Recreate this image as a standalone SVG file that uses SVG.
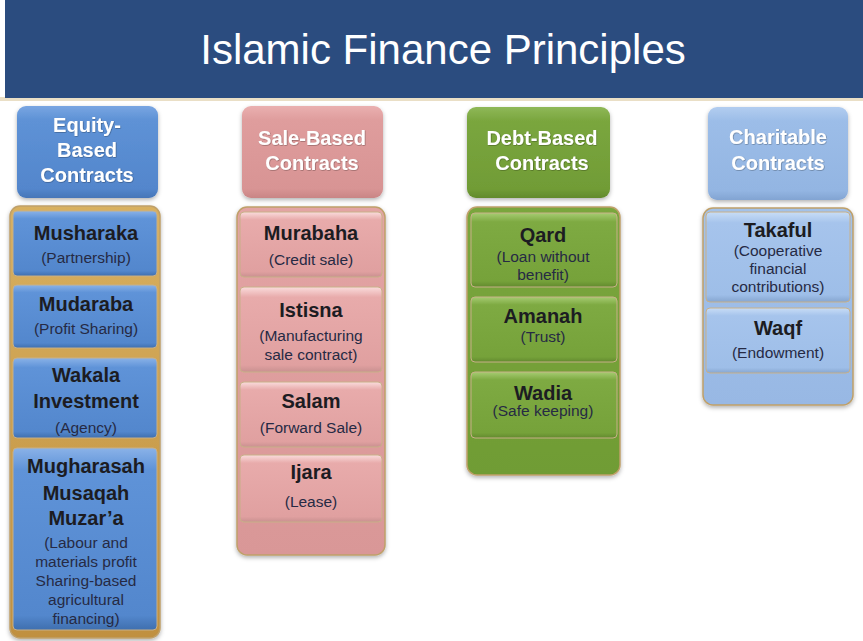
<svg xmlns="http://www.w3.org/2000/svg" width="863" height="641" viewBox="0 0 863 641">
<defs>
<style>
.title{font-family:"Liberation Sans",Arial,sans-serif;font-size:42px;fill:#ffffff;text-anchor:middle}
.hd{font-family:"Liberation Sans",Arial,sans-serif;font-size:20px;font-weight:bold;fill:#ffffff;text-anchor:middle}
.it{font-family:"Liberation Sans",Arial,sans-serif;font-size:20px;font-weight:bold;fill:#1c1c22;text-anchor:middle}
.sb{font-family:"Liberation Sans",Arial,sans-serif;font-size:15.5px;fill:#262a44;text-anchor:middle}
.cont{stroke:#bfa06a;stroke-width:1.5}
.item{stroke:#c8b088;stroke-width:1}
.hl{fill:none;stroke:#ffffff;stroke-opacity:0.55;stroke-width:1.5}
</style>
<filter id="sh" x="-10%" y="-10%" width="120%" height="125%">
<feDropShadow dx="0" dy="2" stdDeviation="2" flood-color="#000" flood-opacity="0.3"/>
</filter>
<filter id="ts" x="-10%" y="-20%" width="120%" height="140%">
<feDropShadow dx="0.5" dy="0.5" stdDeviation="0.6" flood-color="#000" flood-opacity="0.45"/>
</filter>
<linearGradient id="gBlueH" x1="0" y1="0" x2="0" y2="1">
<stop offset="0" stop-color="#79a6e2"/><stop offset="0.15" stop-color="#5e92d6"/><stop offset="0.9" stop-color="#5386cc"/><stop offset="1" stop-color="#4676b8"/>
</linearGradient>
<linearGradient id="gBlueI" x1="0" y1="0" x2="0" y2="1">
<stop offset="0" stop-color="#8ab2e8"/><stop offset="0.12" stop-color="#5f93d8"/><stop offset="0.92" stop-color="#5387cd"/><stop offset="1" stop-color="#3f6fae"/>
</linearGradient>
<linearGradient id="gGold" x1="0" y1="0" x2="0" y2="1">
<stop offset="0" stop-color="#d8b060"/><stop offset="1" stop-color="#c09040"/>
</linearGradient>
<linearGradient id="gPinkH" x1="0" y1="0" x2="0" y2="1">
<stop offset="0" stop-color="#eab0b0"/><stop offset="0.15" stop-color="#df9d9d"/><stop offset="0.9" stop-color="#d89494"/><stop offset="1" stop-color="#c98585"/>
</linearGradient>
<linearGradient id="gPinkI" x1="0" y1="0" x2="0" y2="1">
<stop offset="0" stop-color="#fadcdc"/><stop offset="0.12" stop-color="#e8abab"/><stop offset="0.92" stop-color="#e0a0a0"/><stop offset="1" stop-color="#c99090"/>
</linearGradient>
<linearGradient id="gPinkC" x1="0" y1="0" x2="0" y2="1">
<stop offset="0" stop-color="#e3a4a4"/><stop offset="1" stop-color="#d99797"/>
</linearGradient>
<linearGradient id="gGreenH" x1="0" y1="0" x2="0" y2="1">
<stop offset="0" stop-color="#8fb858"/><stop offset="0.15" stop-color="#7aa63e"/><stop offset="0.9" stop-color="#719c36"/><stop offset="1" stop-color="#628a2c"/>
</linearGradient>
<linearGradient id="gGreenI" x1="0" y1="0" x2="0" y2="1">
<stop offset="0" stop-color="#a6cc72"/><stop offset="0.12" stop-color="#7eaa42"/><stop offset="0.92" stop-color="#76a23a"/><stop offset="1" stop-color="#628a2e"/>
</linearGradient>
<linearGradient id="gGreenC" x1="0" y1="0" x2="0" y2="1">
<stop offset="0" stop-color="#7aa63e"/><stop offset="1" stop-color="#709c34"/>
</linearGradient>
<linearGradient id="gLbH" x1="0" y1="0" x2="0" y2="1">
<stop offset="0" stop-color="#b2cdf0"/><stop offset="0.15" stop-color="#9cbde8"/><stop offset="0.9" stop-color="#93b5e2"/><stop offset="1" stop-color="#82a4d2"/>
</linearGradient>
<linearGradient id="gLbI" x1="0" y1="0" x2="0" y2="1">
<stop offset="0" stop-color="#c8ddf6"/><stop offset="0.12" stop-color="#a6c4ec"/><stop offset="0.92" stop-color="#9ebee8"/><stop offset="1" stop-color="#86a6d0"/>
</linearGradient>
<linearGradient id="gLbC" x1="0" y1="0" x2="0" y2="1">
<stop offset="0" stop-color="#a3c2ea"/><stop offset="1" stop-color="#98b8e4"/>
</linearGradient>
</defs>
<rect x="0" y="0" width="863" height="641" fill="#ffffff"/>
<g id="title">
<rect x="0" y="97" width="863" height="4" fill="#eadfc6"/>
<rect x="5" y="0" width="858" height="98" fill="#2b4c7f"/>
<text class="title" x="443" y="64">Islamic Finance Principles</text>
</g>

<g id="equity">
<g id="equity-header">
<rect x="17" y="106" width="141" height="92" rx="9" fill="url(#gBlueH)" filter="url(#sh)"/>
<text class="hd" filter="url(#ts)" x="87" y="132">Equity-</text>
<text class="hd" filter="url(#ts)" x="87" y="157">Based</text>
<text class="hd" filter="url(#ts)" x="87" y="182">Contracts</text>
</g>
<rect class="cont" x="10" y="206" width="150" height="432" rx="10" fill="url(#gGold)" filter="url(#sh)"/>
<g id="musharaka">
<rect class="item" x="13" y="211" width="144" height="65" rx="4" fill="url(#gBlueI)"/>
<text class="it" x="86" y="240">Musharaka</text>
<text class="sb" x="86" y="263">(Partnership)</text>
</g>
<g id="mudaraba">
<rect class="item" x="13" y="285" width="144" height="63" rx="4" fill="url(#gBlueI)"/>
<text class="it" x="86" y="311">Mudaraba</text>
<text class="sb" x="86" y="334">(Profit Sharing)</text>
</g>
<g id="wakala">
<rect class="item" x="13" y="358" width="144" height="80" rx="4" fill="url(#gBlueI)"/>
<text class="it" x="86" y="382">Wakala</text>
<text class="it" x="86" y="408">Investment</text>
<text class="sb" x="86" y="433">(Agency)</text>
</g>
<g id="mugharasah">
<rect class="item" x="13" y="448" width="144" height="182" rx="4" fill="url(#gBlueI)"/>
<text class="it" x="86" y="473">Mugharasah</text>
<text class="it" x="86" y="500">Musaqah</text>
<text class="it" x="86" y="525">Muzar’a</text>
<text class="sb" x="86" y="548">(Labour and</text>
<text class="sb" x="86" y="567">materials profit</text>
<text class="sb" x="86" y="586">Sharing-based</text>
<text class="sb" x="86" y="605">agricultural</text>
<text class="sb" x="86" y="624">financing)</text>
</g>
</g>

<g id="sale">
<g id="sale-header">
<rect x="242" y="106" width="141" height="92" rx="9" fill="url(#gPinkH)" filter="url(#sh)"/>
<text class="hd" filter="url(#ts)" x="312" y="145">Sale-Based</text>
<text class="hd" filter="url(#ts)" x="312" y="170">Contracts</text>
</g>
<rect class="cont" x="237" y="207" width="148" height="348" rx="10" fill="url(#gPinkC)" filter="url(#sh)"/>
<g id="murabaha">
<rect class="item" x="240" y="212" width="142" height="65" rx="4" fill="url(#gPinkI)"/>
<text class="it" x="311" y="240">Murabaha</text>
<text class="sb" x="311" y="265">(Credit sale)</text>
</g>
<g id="istisna">
<rect class="item" x="240" y="287" width="142" height="85" rx="4" fill="url(#gPinkI)"/>
<text class="it" x="311" y="317">Istisna</text>
<text class="sb" x="311" y="341">(Manufacturing</text>
<text class="sb" x="311" y="360">sale contract)</text>
</g>
<g id="salam">
<rect class="item" x="240" y="382" width="142" height="65" rx="4" fill="url(#gPinkI)"/>
<text class="it" x="311" y="408">Salam</text>
<text class="sb" x="311" y="433">(Forward Sale)</text>
</g>
<g id="ijara">
<rect class="item" x="240" y="455" width="142" height="67" rx="4" fill="url(#gPinkI)"/>
<text class="it" x="311" y="479">Ijara</text>
<text class="sb" x="311" y="507">(Lease)</text>
</g>
</g>

<g id="debt">
<g id="debt-header">
<rect x="467" y="107" width="143" height="91" rx="9" fill="url(#gGreenH)" filter="url(#sh)"/>
<text class="hd" filter="url(#ts)" x="542" y="145">Debt-Based</text>
<text class="hd" filter="url(#ts)" x="542" y="170">Contracts</text>
</g>
<rect class="cont" x="467" y="207" width="153" height="268" rx="10" fill="url(#gGreenC)" filter="url(#sh)"/>
<g id="qard">
<rect class="item" x="471" y="213" width="146" height="74" rx="4" fill="url(#gGreenI)"/>
<text class="it" x="543" y="242">Qard</text>
<text class="sb" x="543" y="262">(Loan without</text>
<text class="sb" x="543" y="280">benefit)</text>
</g>
<g id="amanah">
<rect class="item" x="471" y="297" width="146" height="65" rx="4" fill="url(#gGreenI)"/>
<text class="it" x="543" y="323">Amanah</text>
<text class="sb" x="543" y="342">(Trust)</text>
</g>
<g id="wadia">
<rect class="item" x="471" y="372" width="146" height="66" rx="4" fill="url(#gGreenI)"/>
<text class="it" x="543" y="400">Wadia</text>
<text class="sb" x="543" y="416">(Safe keeping)</text>
</g>
</g>

<g id="charitable">
<g id="charitable-header">
<rect x="708" y="107" width="140" height="93" rx="9" fill="url(#gLbH)" filter="url(#sh)"/>
<text class="hd" filter="url(#ts)" x="778" y="144">Charitable</text>
<text class="hd" filter="url(#ts)" x="778" y="170">Contracts</text>
</g>
<rect class="cont" x="703" y="208" width="150" height="197" rx="10" fill="url(#gLbC)" filter="url(#sh)"/>
<g id="takaful">
<rect class="item" x="706" y="212" width="144" height="90" rx="4" fill="url(#gLbI)"/>
<text class="it" x="778" y="237">Takaful</text>
<text class="sb" x="778" y="256">(Cooperative</text>
<text class="sb" x="778" y="274">financial</text>
<text class="sb" x="778" y="292">contributions)</text>
</g>
<g id="waqf">
<rect class="item" x="706" y="308" width="144" height="65" rx="4" fill="url(#gLbI)"/>
<text class="it" x="778" y="335">Waqf</text>
<text class="sb" x="778" y="358">(Endowment)</text>
</g>
</g>
<g id="connectors"/>
</svg>
